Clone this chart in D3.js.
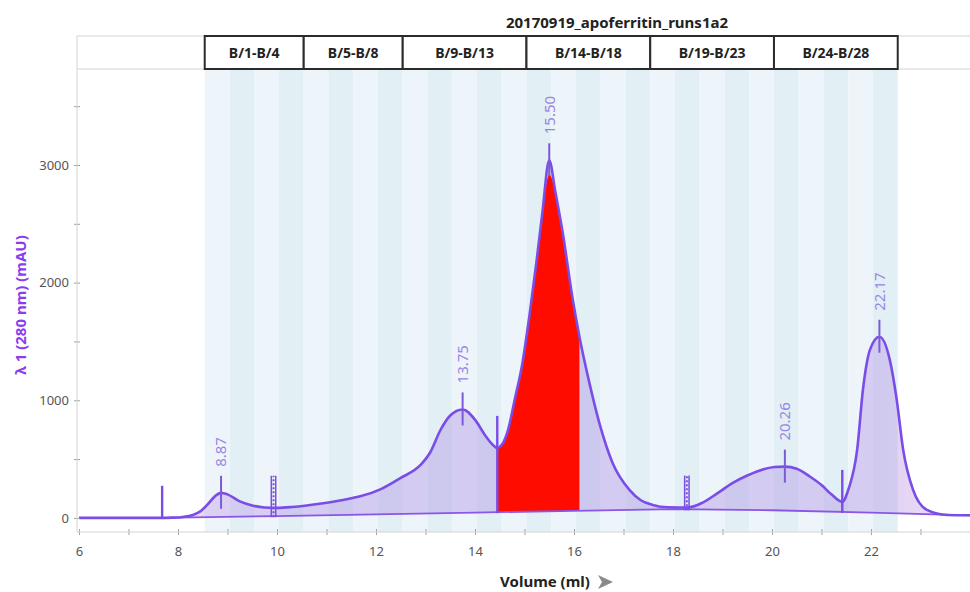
<!DOCTYPE html>
<html>
<head>
<meta charset="utf-8">
<script src="https://cdn.jsdelivr.net/npm/d3@7"></script>
<style>
body { margin: 0; background: #fff; }
svg { display: block; font-family: "Noto Sans", sans-serif; }
</style>
</head>
<body>
<script>
var w = 970; // Width of the chart
var h = 592; // Height of the chart

var title = "20170919_apoferritin_runs1a2";

// UV trace, volume (ml) and absorbance (mAU)
var volume = [6.0, 7.0, 7.6, 7.9, 8.1, 8.3, 8.45, 8.6, 8.75, 8.87, 9.0, 9.25, 9.5, 9.75,
    10.0, 10.3, 10.6, 10.9, 11.3, 11.7, 12.1, 12.5, 12.9, 13.1, 13.3, 13.5, 13.75,
    14.0, 14.2, 14.35, 14.45, 14.55, 14.67, 14.8, 14.96, 15.1, 15.24, 15.36, 15.5,
    15.62, 15.77, 15.97, 16.11, 16.31, 16.51, 16.78, 17.12, 17.35, 17.59, 17.9,
    18.3, 18.6, 18.9, 19.2, 19.5, 19.8, 20.05, 20.26, 20.5, 20.77, 21.0, 21.2, 21.42,
    21.55, 21.72, 21.84, 21.98, 22.17, 22.38, 22.52, 22.65, 22.85, 23.13, 23.54, 24.0];
var absorbance = [0, 0, 0, 2, 8, 25, 55, 115, 185, 213, 200, 140, 105, 88,
    85, 92, 105, 122, 150, 185, 245, 340, 450, 560, 745, 870, 922,
    835, 705, 625, 595, 625, 750, 1000, 1320, 1720, 2170, 2590, 3040,
    2780, 2430, 1870, 1540, 1150, 810, 467, 238, 150, 110, 90,
    88, 130, 210, 295, 360, 410, 432, 436, 418, 350, 280, 200, 136,
    250, 578, 1100, 1430, 1540, 1343, 1003, 578, 238, 68, 25, 22];

// integration baseline
var baseVolume = [7.68, 10, 12, 14, 16, 18, 20, 22, 24];
var baseValue = [0, 15, 30, 45, 60, 75, 65, 45, 22];

// peaks and peak boundaries
var peakVolume = [8.87, 13.75, 15.50, 20.26, 22.17];
var peakLabels = ["8.87", "13.75", "15.50", "20.26", "22.17"];
var boundVolume = [7.68, 9.93, 14.45, 18.28, 21.42];
var boundDotted = [false, true, false, true, false];

// fractions
var fracNames = ["B/1-B/4", "B/5-B/8", "B/9-B/13", "B/14-B/18", "B/19-B/23", "B/24-B/28"];
var fracStart = [8.54, 10.54, 12.54, 15.04, 17.54, 20.04];
var fracEnd = [10.54, 12.54, 15.04, 17.54, 20.04, 22.54];
var tubeSize = 0.5;

// highlighted (red) region
var redRange = [14.45, 16.11];
var redCap = 2920;

var xTicks = d3.range(6, 24);
var yTicks = d3.range(0, 3501, 500);

var left = 77, plotTop = 69, headTop = 36, bottom = 532;

var xScale = d3.scaleLinear().domain([5.96, 24]).range([left, w]);
var yScale = d3.scaleLinear().domain([-120, 3816]).range([bottom, plotTop]);
var baseAt = d3.scaleLinear().domain(baseVolume).range(baseValue).clamp(true);
var curveAt = d3.scaleLinear().domain(volume).range(absorbance);

var points = volume.map(function(v, i) { return { v: v, a: absorbance[i] }; });

var svg = d3.select("body").append("svg")
    .attr("width", w)
    .attr("height", h);

var defs = svg.append("defs");
var grad = defs.append("linearGradient").attr("id", "fillGrad")
    .attr("x1", "0").attr("x2", "1").attr("y1", "0").attr("y2", "0");
grad.append("stop").attr("offset", "0").attr("stop-color", "#c79be8");
grad.append("stop").attr("offset", "0.2").attr("stop-color", "#a887e2");
grad.append("stop").attr("offset", "0.85").attr("stop-color", "#a887e2");
grad.append("stop").attr("offset", "1").attr("stop-color", "#d29be6");

// tube stripes
var tubeCount = Math.round((fracEnd[fracEnd.length - 1] - fracStart[0]) / tubeSize);
svg.append("g").selectAll("rect")
    .data(d3.range(tubeCount))
    .join("rect")
    .attr("x", function(i) { return xScale(fracStart[0] + i * tubeSize); })
    .attr("y", plotTop)
    .attr("width", function(i) { return xScale(fracStart[0] + (i + 1) * tubeSize) - xScale(fracStart[0] + i * tubeSize); })
    .attr("height", bottom - plotTop)
    .attr("fill", function(i) { return i % 2 ? "#e2f0f6" : "#eef5fa"; });

// header band
svg.append("line").attr("x1", left).attr("x2", w).attr("y1", headTop).attr("y2", headTop)
    .attr("stroke", "#d4d4d4");
svg.append("line").attr("x1", left).attr("x2", w).attr("y1", plotTop).attr("y2", plotTop)
    .attr("stroke", "#d4d4d4");

// fraction boxes
var fr = svg.append("g").selectAll("g")
    .data(fracNames)
    .join("g");
fr.append("rect")
    .attr("x", function(d, i) { return xScale(fracStart[i]); })
    .attr("y", headTop)
    .attr("width", function(d, i) { return xScale(fracEnd[i]) - xScale(fracStart[i]); })
    .attr("height", plotTop - headTop)
    .attr("fill", "#fff")
    .attr("stroke", "#2b2b2b")
    .attr("stroke-width", 2);
fr.append("text")
    .attr("x", function(d, i) { return (xScale(fracStart[i]) + xScale(fracEnd[i])) / 2; })
    .attr("y", 58)
    .attr("text-anchor", "middle")
    .attr("fill", "#222")
    .style("font-size", "14px")
    .style("font-weight", "bold")
    .text(function(d) { return d; });

// title
svg.append("text")
    .attr("x", 617)
    .attr("y", 28)
    .attr("text-anchor", "middle")
    .attr("fill", "#222")
    .style("font-size", "15px")
    .style("font-weight", "bold")
    .text(title);

// filled area between trace and baseline
var area = d3.area()
    .x(function(d) { return xScale(d.v); })
    .y0(function(d) { return yScale(baseAt(d.v)); })
    .y1(function(d) { return yScale(d.a); })
    .curve(d3.curveMonotoneX);

var fillPts = [{ v: baseVolume[0], a: curveAt(baseVolume[0]) }]
    .concat(points.filter(function(d) { return d.v > baseVolume[0]; }));
svg.append("path")
    .datum(fillPts)
    .attr("d", area)
    .attr("fill", "url(#fillGrad)")
    .attr("opacity", 0.38);

// red highlighted region
var redPts = points.filter(function(d) { return d.v >= redRange[0] && d.v <= redRange[1]; })
    .map(function(d) { return { v: d.v, a: Math.min(d.a, redCap) }; });
svg.append("path")
    .datum(redPts)
    .attr("d", area)
    .attr("fill", "#fe0c00");

// baseline
svg.append("path")
    .datum(baseVolume.map(function(v, i) { return [xScale(v), yScale(baseValue[i])]; }))
    .attr("d", d3.line())
    .attr("fill", "none")
    .attr("stroke", "#8a55e8")
    .attr("stroke-width", 1.8);

// trace
svg.append("path")
    .datum(points)
    .attr("d", d3.line()
        .x(function(d) { return xScale(d.v); })
        .y(function(d) { return yScale(d.a); })
        .curve(d3.curveMonotoneX))
    .attr("fill", "none")
    .attr("stroke", "#7a4de6")
    .attr("stroke-width", 2.6);

// boundary markers
var bd = svg.append("g").selectAll("g")
    .data(boundVolume)
    .join("g");
bd.each(function(v, i) {
    var g = d3.select(this);
    var xv = xScale(v);
    var y1 = yScale(baseAt(v)) + 1;
    var y2 = yScale(curveAt(v)) - 32;
    if (boundDotted[i]) {
        [-2.2, 2.2].forEach(function(o) {
            g.append("line").attr("x1", xv + o).attr("x2", xv + o).attr("y1", y1).attr("y2", y2)
                .attr("stroke", "#7a4de6").attr("stroke-width", 1.5);
        });
        g.append("line").attr("x1", xv).attr("x2", xv).attr("y1", y1).attr("y2", y2)
            .attr("stroke", "#7a4de6").attr("stroke-width", 2).attr("stroke-dasharray", "2,2");
    } else {
        g.append("line").attr("x1", xv).attr("x2", xv).attr("y1", y1).attr("y2", y2)
            .attr("stroke", "#7a4de6").attr("stroke-width", 2.4);
    }
});

// peak markers and labels
var pk = svg.append("g").selectAll("g")
    .data(peakVolume)
    .join("g");
pk.append("line")
    .attr("x1", function(v) { return xScale(v); })
    .attr("x2", function(v) { return xScale(v); })
    .attr("y1", function(v) { return yScale(curveAt(v)) - 17; })
    .attr("y2", function(v) { return yScale(curveAt(v)) + 16; })
    .attr("stroke", "#7b5ad8")
    .attr("stroke-width", 2);
pk.append("text")
    .attr("transform", function(v) {
        return "translate(" + xScale(v) + "," + (yScale(curveAt(v)) - 26) + ") rotate(-90)";
    })
    .attr("dy", "0.36em")
    .attr("fill", "#9a84e4")
    .style("font-size", "15px")
    .text(function(v, i) { return peakLabels[i]; });

// axes
var yAxis = d3.axisLeft(yScale)
    .tickValues(yTicks)
    .tickSize(3)
    .tickPadding(5)
    .tickFormat(function(d) { return d % 1000 === 0 ? d : ""; });
var gy = svg.append("g")
    .attr("transform", "translate(" + left + ",0)")
    .call(yAxis);
gy.select(".domain").remove();
gy.selectAll(".tick line").attr("x2", -3).attr("x1", 3).attr("stroke", "#a0a0a0");
gy.selectAll(".tick text").attr("fill", "#555").style("font-size", "13px")
    .style("font-family", "'Noto Sans', sans-serif");
svg.append("line").attr("x1", left).attr("x2", left).attr("y1", headTop).attr("y2", bottom)
    .attr("stroke", "#d4d4d4");

var xAxis = d3.axisBottom(xScale)
    .tickValues(xTicks)
    .tickSize(3)
    .tickPadding(12)
    .tickFormat(function(d) { return d % 2 === 0 ? d : ""; });
var gx = svg.append("g")
    .attr("transform", "translate(0," + bottom + ")")
    .call(xAxis);
gx.select(".domain").remove();
gx.selectAll(".tick line").attr("y1", -3).attr("y2", 3).attr("stroke", "#a0a0a0");
gx.selectAll(".tick text").attr("fill", "#555").style("font-size", "13px")
    .style("font-family", "'Noto Sans', sans-serif");
svg.append("line").attr("x1", left).attr("x2", w).attr("y1", bottom).attr("y2", bottom)
    .attr("stroke", "#d4d4d4");

// axis labels
svg.append("text")
    .attr("transform", "translate(26,305) rotate(-90)")
    .attr("text-anchor", "middle")
    .attr("fill", "#8a3cf0")
    .style("font-size", "15px")
    .style("font-weight", "bold")
    .text("λ 1 (280 nm) (mAU)");

svg.append("text")
    .attr("x", 545)
    .attr("y", 587)
    .attr("text-anchor", "middle")
    .attr("fill", "#222")
    .style("font-size", "15px")
    .style("font-weight", "bold")
    .text("Volume (ml)");
svg.append("path")
    .attr("d", "M598,575 L613,582 L598,589 L602,582 Z")
    .attr("fill", "#8a8a8a");
</script>
</body>
</html>
